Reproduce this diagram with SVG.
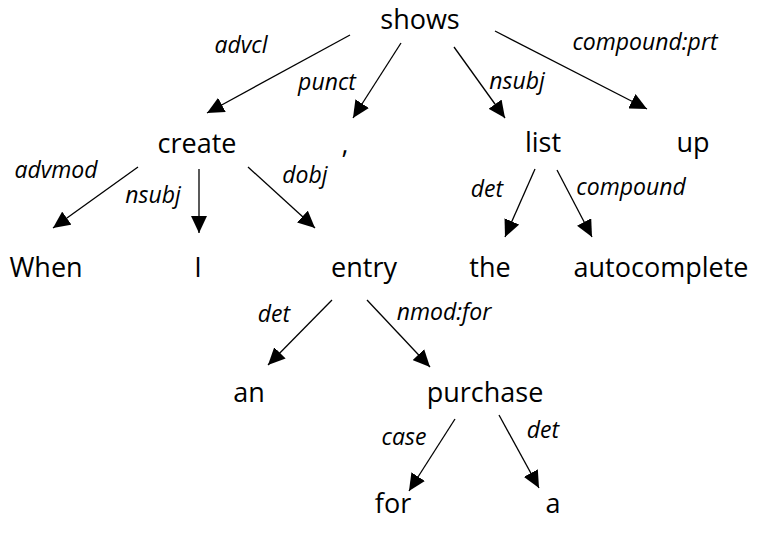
<svg xmlns="http://www.w3.org/2000/svg" width="758" height="533" viewBox="0 0 758 533">
<style>
.n{font-family:"Open Sans","Liberation Sans",sans-serif;font-size:27px;fill:#000;text-anchor:middle}
.l{font-family:"Open Sans","Liberation Sans",sans-serif;font-size:23px;font-style:italic;fill:#000;text-anchor:middle}
.e{stroke:#000;stroke-width:1.3;fill:none;marker-end:url(#ah)}
</style>
<defs>
<marker id="ah" viewBox="0 -8 17 16" refX="17" refY="0" markerWidth="17" markerHeight="16" markerUnits="userSpaceOnUse" orient="auto">
<path d="M0,-8 L17,0 L0,8 z" fill="#000"/>
</marker>
</defs>
<rect width="758" height="533" fill="#fff"/>
<g id="connectors">
<line class="e" x1="350" y1="35" x2="207" y2="113"/>
<line class="e" x1="401" y1="43" x2="353" y2="118"/>
<line class="e" x1="454" y1="47" x2="505" y2="118"/>
<line class="e" x1="495" y1="31" x2="647" y2="109"/>
<line class="e" x1="138" y1="167" x2="53" y2="228"/>
<line class="e" x1="199" y1="169" x2="199" y2="233"/>
<line class="e" x1="248" y1="167" x2="315" y2="228"/>
<line class="e" x1="535" y1="169" x2="505" y2="237"/>
<line class="e" x1="557" y1="170" x2="592" y2="237"/>
<line class="e" x1="332" y1="300" x2="268" y2="365"/>
<line class="e" x1="367" y1="300" x2="430" y2="367"/>
<line class="e" x1="455" y1="419" x2="409" y2="491"/>
<line class="e" x1="499" y1="415" x2="539" y2="488"/>
</g>
<g id="labels">
<text class="l" x="241" y="53">advcl</text>
<text class="l" x="327" y="90">punct</text>
<text class="l" x="517" y="89">nsubj</text>
<text class="l" x="645" y="50">compound:prt</text>
<text class="l" x="56" y="178">advmod</text>
<text class="l" x="153" y="203">nsubj</text>
<text class="l" x="305" y="183">dobj</text>
<text class="l" x="487" y="197">det</text>
<text class="l" x="631" y="195">compound</text>
<text class="l" x="274" y="322">det</text>
<text class="l" x="444" y="320">nmod:for</text>
<text class="l" x="404" y="445">case</text>
<text class="l" x="543" y="438">det</text>
</g>
<g id="n-shows"><text class="n" x="420" y="29">shows</text></g>
<g id="n-create"><text class="n" x="197" y="153">create</text></g>
<g id="n-comma"><text class="n" x="345" y="153">,</text></g>
<g id="n-list"><text class="n" x="543" y="152">list</text></g>
<g id="n-up"><text class="n" x="693" y="152">up</text></g>
<g id="n-when"><text class="n" x="46" y="277">When</text></g>
<g id="n-i"><text class="n" x="198" y="277">I</text></g>
<g id="n-entry"><text class="n" x="364" y="277">entry</text></g>
<g id="n-the"><text class="n" x="490" y="277">the</text></g>
<g id="n-autocomplete"><text class="n" x="661" y="277">autocomplete</text></g>
<g id="n-an"><text class="n" x="249" y="402">an</text></g>
<g id="n-purchase"><text class="n" x="485" y="402">purchase</text></g>
<g id="n-for"><text class="n" x="393" y="513">for</text></g>
<g id="n-a"><text class="n" x="553" y="513">a</text></g>
</svg>
